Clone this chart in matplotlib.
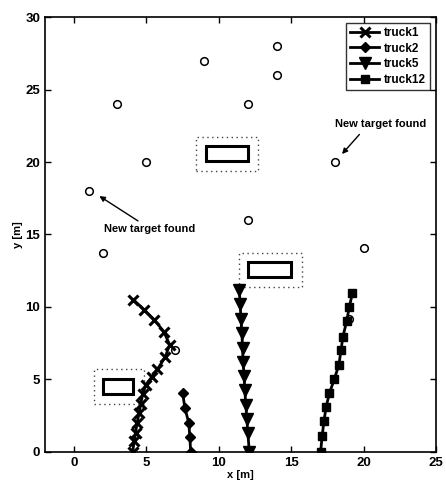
import matplotlib
matplotlib.use('Agg')
import matplotlib.pyplot as plt
from matplotlib.patches import Rectangle

plt.rcParams['font.family'] = ['Liberation Sans', 'DejaVu Sans']

# truck paths
truck1_x = [4.05, 4.15, 4.25, 4.35, 4.5, 4.6, 4.75, 4.95, 5.35, 5.75, 6.3, 6.6, 6.2, 5.55, 4.85, 4.1]
truck1_y = [0, 0.75, 1.3, 2.0, 2.7, 3.3, 4.0, 4.6, 5.15, 5.7, 6.55, 7.4, 8.3, 9.1, 9.8, 10.5]
truck2_x = [8.05, 8.0, 7.92, 7.65, 7.5]
truck2_y = [0, 1.0, 2.0, 3.05, 4.05]
truck5_x = [12.1, 12.0, 11.93, 11.86, 11.79, 11.74, 11.67, 11.63, 11.59, 11.52, 11.47, 11.4]
truck5_y = [0, 1.3, 2.3, 3.25, 4.25, 5.25, 6.2, 7.2, 8.2, 9.2, 10.2, 11.2]
truck12_x = [17.02, 17.13, 17.25, 17.4, 17.63, 17.96, 18.28, 18.43, 18.56, 18.83, 19.0, 19.22]
truck12_y = [0, 1.1, 2.1, 3.1, 4.05, 5.0, 6.0, 7.0, 7.95, 9.05, 10.0, 10.95]

# targets
target_x = [3, 9, 14, 14, 12, 5, 18, 1, 12, 2, 20, 7, 19]
target_y = [24, 27, 28, 26, 24, 20, 20, 18, 16, 13.7, 14.1, 7, 9.15]

# obstacles: (x0, y0, width, height) and their safety margins
obstacles = [(9.1, 20.1, 2.9, 1.0), (12.0, 12.1, 3.0, 1.0), (2.0, 4.0, 2.1, 1.0)]
margins = [(8.4, 19.4, 4.3, 2.3), (11.4, 11.4, 4.35, 2.3), (1.4, 3.3, 3.4, 2.4)]

fig, ax = plt.subplots(figsize=(4.46, 4.87), dpi=100)
fig.subplots_adjust(left=0.101, right=0.978, bottom=0.072, top=0.965)

for (x0, y0, w, h) in margins:
    ax.add_patch(Rectangle((x0, y0), w, h, fill=False, edgecolor='#444444',
                           linestyle=(0, (1, 2.5)), linewidth=1.0))
for (x0, y0, w, h) in obstacles:
    ax.add_patch(Rectangle((x0, y0), w, h, fill=False, edgecolor='black',
                           linewidth=2.2))

ax.plot(target_x, target_y, 'o', color='black', markerfacecolor='white',
        markersize=5.5, markeredgewidth=1.1, linestyle='none')

ax.plot(truck1_x, truck1_y, color='black', linewidth=2, marker='x',
        markersize=7, markeredgewidth=2.2, label='truck1')
ax.plot(truck2_x, truck2_y, color='black', linewidth=2, marker='D',
        markersize=5, label='truck2')
ax.plot(truck5_x, truck5_y, color='black', linewidth=2, marker='v',
        markersize=8.5, label='truck5')
ax.plot(truck12_x, truck12_y, color='black', linewidth=2, marker='s',
        markersize=6, label='truck12')

ax.annotate('New target found', xy=(1.75, 17.65), xytext=(2.1, 15.4),
            fontsize=8, fontweight='bold', va='center', ha='left',
            arrowprops=dict(arrowstyle='-|>', color='black', lw=1.0,
                            shrinkA=0, shrinkB=0, mutation_scale=8),
            annotation_clip=False)
ax.annotate('', xy=(18.5, 20.55), xytext=(19.7, 21.9),
            arrowprops=dict(arrowstyle='-|>', color='black', lw=1.0,
                            shrinkA=0, shrinkB=0, mutation_scale=8))
ax.text(18.0, 22.6, 'New target found', fontsize=8, fontweight='bold',
        va='center', ha='left')

ax.set_xlim(-2, 25)
ax.set_ylim(0, 30)
ax.set_xticks([0, 5, 10, 15, 20, 25])
ax.set_yticks([0, 5, 10, 15, 20, 25, 30])
ax.tick_params(direction='in', top=True, right=True, labelsize=9.5,
               length=4, width=1)
for lab in ax.get_xticklabels() + ax.get_yticklabels():
    lab.set_fontweight('bold')
for sp in ax.spines.values():
    sp.set_linewidth(1.2)

ax.set_xlabel('x [m]', fontsize=8, fontweight='bold', labelpad=1)
ax.set_ylabel('y [m]', fontsize=8, fontweight='bold', labelpad=2)

leg = ax.legend(loc='upper right', fontsize=8, frameon=True, fancybox=False,
                edgecolor='black', handlelength=2.5, handletextpad=0.4,
                borderpad=0.35, labelspacing=0.3, borderaxespad=0.5,
                prop={'weight': 'bold', 'size': 8.5})
leg.get_frame().set_linewidth(1.0)

fig.savefig('out.png', dpi=100, facecolor='white')
